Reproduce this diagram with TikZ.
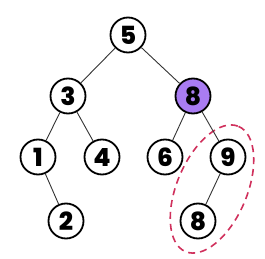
\documentclass[tikz,border=0pt]{standalone}
\usepackage{fontspec}
\setmainfont{Poppins}[BoldFont={* ExtraBold}]
\definecolor{hl}{HTML}{A97CF2}
\definecolor{dashred}{HTML}{D0305C}
\definecolor{edgegray}{HTML}{333333}
\begin{document}
\begin{tikzpicture}[x=1pt,y=-1pt,
  vtx/.style={circle,draw=black,line width=1.8pt,fill=white,minimum size=35pt,inner sep=0pt,font=\fontsize{25}{25}\selectfont\bfseries},
  hlvtx/.style={vtx,fill=hl},
  edge/.style={draw=edgegray,line width=0.9pt}]
\useasboundingbox (0,0) rectangle (265,259);
\draw[dashred,line width=1.6pt,dash pattern=on 7pt off 5pt,rotate around={67:(212,189)}] (212,189) ellipse [x radius=68,y radius=35];
\node[vtx] (n5) at (128,35) {5};
\node[vtx] (n3) at (68,96) {3};
\node[hlvtx] (n8) at (193,96) {8};
\node[vtx] (n1) at (38,157) {1};
\node[vtx] (n4) at (102,157) {4};
\node[vtx] (n6) at (165,157) {6};
\node[vtx] (n9) at (228,157) {9};
\node[vtx] (n2) at (66,221) {2};
\node[vtx] (n8b) at (198,221) {8};
\draw[edge] (n5) -- (n3);
\draw[edge] (n5) -- (n8);
\draw[edge] (n3) -- (n1);
\draw[edge] (n3) -- (n4);
\draw[edge] (n8) -- (n6);
\draw[edge] (n8) -- (n9);
\draw[edge] (n1) -- (n2);
\draw[edge] (n9) -- (n8b);
\end{tikzpicture}
\end{document}
